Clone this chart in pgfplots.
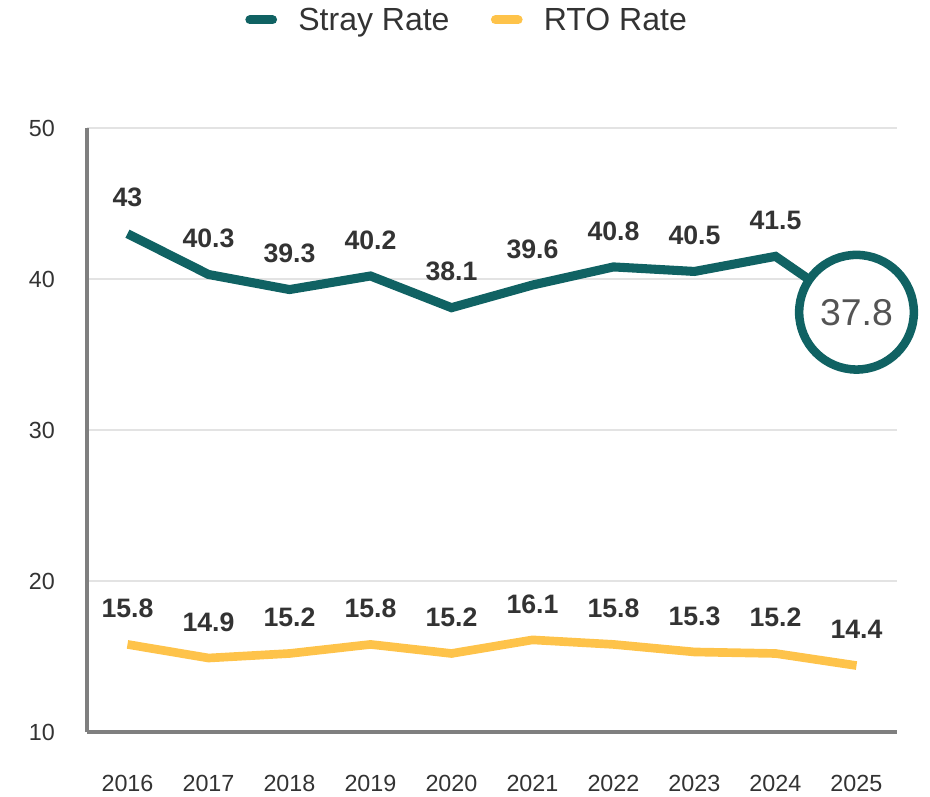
\documentclass[border=0pt]{standalone}
\usepackage{fontspec}
\setmainfont{Liberation Sans}
\usepackage{pgfplots}
\pgfplotsset{compat=1.18}
\definecolor{stray}{HTML}{106263}
\definecolor{rto}{HTML}{FEC34A}
\definecolor{txt}{HTML}{333333}
\definecolor{axgray}{HTML}{7F7F7F}
\definecolor{gridc}{HTML}{E3E3E3}
\begin{document}
\begin{tikzpicture}
\useasboundingbox (-65.25pt,-48pt) rectangle (632.25pt,549pt);
\begin{axis}[
  scale only axis,
  width=607.5pt, height=453pt,
  xmin=2015.5, xmax=2025.5,
  ymin=10, ymax=50,
  xtick={2016,...,2025},
  ytick={10,20,30,40,50},
  xticklabel style={/pgf/number format/1000 sep={}},
  /pgf/number format/assume math mode=true,
  axis x line=bottom, axis y line=left,
  axis line style={axgray, line width=2.8pt, -},
  major tick length=0pt,
  ymajorgrids,
  grid style={gridc, line width=1.2pt},
  tick label style={font=\fontsize{17.5}{20}\selectfont, text=txt},
  yticklabel style={inner sep=0pt, anchor=east, xshift=-24pt},
  xticklabel style={inner sep=0pt, anchor=north, yshift=-32pt},
  clip=false,
  legend columns=2,
  legend style={draw=none, fill=none, at={(0.468,1.179)}, anchor=center,
    font=\fontsize{24}{27}\selectfont, text=txt,
    /tikz/every odd column/.append style={column sep=16pt},
    /tikz/every even column/.append style={column sep=31pt},
    nodes={inner sep=0pt}},
  legend image code/.code={\draw[#1, line cap=round, line width=6.8pt] (0pt,0pt) -- (17pt,0pt);},
  every node near coord/.append style={font=\bfseries\fontsize{20}{24}\selectfont, text=txt, anchor=center, yshift=27pt},
]
\addplot[stray, line width=6.8pt, no markers] coordinates {
  (2016,43) (2017,40.3) (2018,39.3) (2019,40.2) (2020,38.1)
  (2021,39.6) (2022,40.8) (2023,40.5) (2024,41.5) (2025,37.8)};
\addlegendentry{Stray Rate}
\addplot[rto, line width=6.5pt, no markers] coordinates {
  (2016,15.8) (2017,14.9) (2018,15.2) (2019,15.8) (2020,15.2)
  (2021,16.1) (2022,15.8) (2023,15.3) (2024,15.2) (2025,14.4)};
\addlegendentry{RTO Rate}
% labels for stray (first nine points)
\addplot[draw=none, forget plot, no markers, nodes near coords] coordinates {
  (2016,43) (2017,40.3) (2018,39.3) (2019,40.2) (2020,38.1)
  (2021,39.6) (2022,40.8) (2023,40.5) (2024,41.5)};
% labels for RTO
\addplot[draw=none, forget plot, no markers, nodes near coords] coordinates {
  (2016,15.8) (2017,14.9) (2018,15.2) (2019,15.8) (2020,15.2)
  (2021,16.1) (2022,15.8) (2023,15.3) (2024,15.2) (2025,14.4)};
% highlighted last stray value
\addplot[forget plot, only marks, mark=*, mark size=43pt,
  mark options={draw=stray, fill=white, line width=6.4pt},
  nodes near coords,
  every node near coord/.style={font=\fontsize{28}{32}\selectfont, text=black!67, anchor=center, yshift=0pt}]
  coordinates {(2025,37.8)};
\end{axis}
\end{tikzpicture}
\end{document}
